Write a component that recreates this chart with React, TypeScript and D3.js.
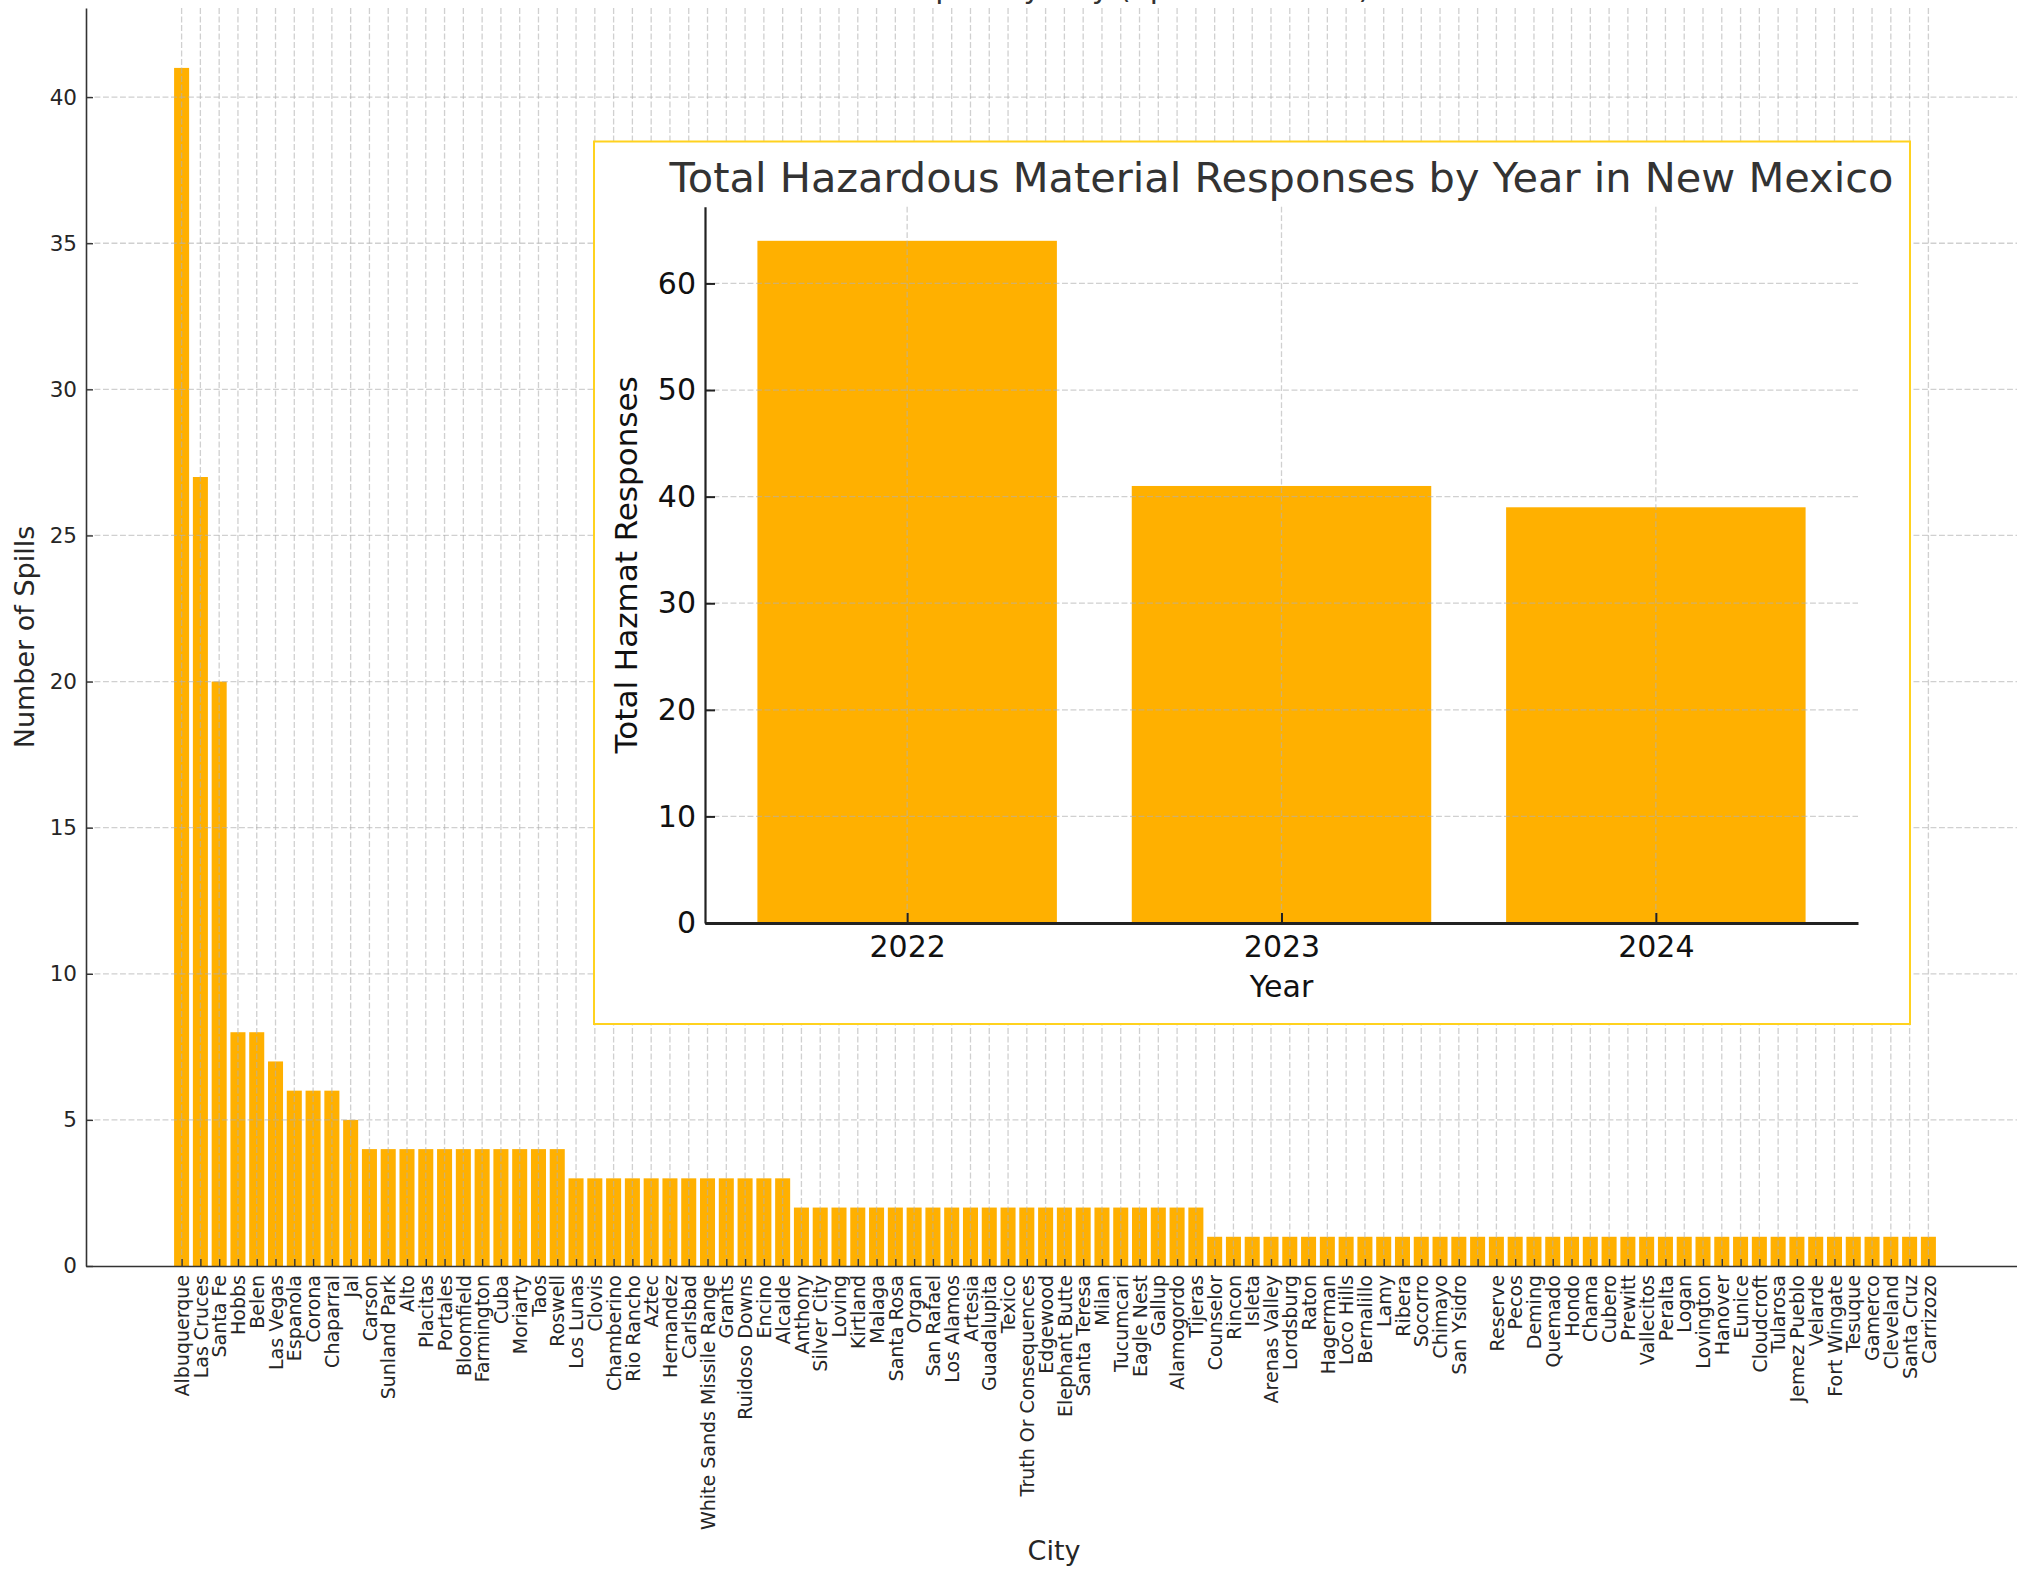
import React, { useEffect, useRef } from 'react';
import * as d3 from 'd3';

// Spills per city (main chart)
const cities = [
  'Albuquerque', 'Las Cruces', 'Santa Fe', 'Hobbs', 'Belen', 'Las Vegas', 'Espanola', 'Corona',
  'Chaparral', 'Jal', 'Carson', 'Sunland Park', 'Alto', 'Placitas', 'Portales', 'Bloomfield',
  'Farmington', 'Cuba', 'Moriarty', 'Taos', 'Roswell', 'Los Lunas', 'Clovis', 'Chamberino',
  'Rio Rancho', 'Aztec', 'Hernandez', 'Carlsbad', 'White Sands Missile Range', 'Grants',
  'Ruidoso Downs', 'Encino', 'Alcalde', 'Anthony', 'Silver City', 'Loving', 'Kirtland', 'Malaga',
  'Santa Rosa', 'Organ', 'San Rafael', 'Los Alamos', 'Artesia', 'Guadalupita', 'Texico',
  'Truth Or Consequences', 'Edgewood', 'Elephant Butte', 'Santa Teresa', 'Milan', 'Tucumcari',
  'Eagle Nest', 'Gallup', 'Alamogordo', 'Tijeras', 'Counselor', 'Rincon', 'Isleta', 'Arenas Valley',
  'Lordsburg', 'Raton', 'Hagerman', 'Loco Hills', 'Bernalillo', 'Lamy', 'Ribera', 'Socorro',
  'Chimayo', 'San Ysidro', '', 'Reserve', 'Pecos', 'Deming', 'Quemado', 'Hondo', 'Chama', 'Cubero',
  'Prewitt', 'Vallecitos', 'Peralta', 'Logan', 'Lovington', 'Hanover', 'Eunice', 'Cloudcroft',
  'Tularosa', 'Jemez Pueblo', 'Velarde', 'Fort Wingate', 'Tesuque', 'Gamerco', 'Cleveland',
  'Santa Cruz', 'Carrizozo',
];

const spills = [
  41, 27, 20, 8, 8, 7, 6, 6,
  6, 5, 4, 4, 4, 4, 4, 4,
  4, 4, 4, 4, 4, 3, 3, 3,
  3, 3, 3, 3, 3, 3,
  3, 3, 3, 2, 2, 2, 2, 2,
  2, 2, 2, 2, 2, 2, 2,
  2, 2, 2, 2, 2, 2,
  2, 2, 2, 2, 1, 1, 1, 1,
  1, 1, 1, 1, 1, 1, 1, 1,
  1, 1, 1, 1, 1, 1, 1, 1, 1, 1,
  1, 1, 1, 1, 1, 1, 1, 1,
  1, 1, 1, 1, 1, 1, 1,
  1, 1,
];

const spillTicks = [0, 5, 10, 15, 20, 25, 30, 35, 40];

// Inset: responses by year
const years = ['2022', '2023', '2024'];
const responses = [64, 41, 39];
const responseTicks = [0, 10, 20, 30, 40, 50, 60];

const W = 2017;
const H = 1577;
const BAR = '#FFB000';
const FONT = 'DejaVu Sans, Verdana, sans-serif';
const TXT = '#262626';

export default function App() {
  const svgRef = useRef<SVGSVGElement>(null);

  useEffect(() => {
    if (!svgRef.current) return;
    const svg = d3.select(svgRef.current);
    svg.selectAll('*').remove();

    // ---------- main chart ----------
    const n = cities.length;
    const pad = 0.05 * (n - 1 + 0.8);
    const x = d3.scaleLinear().domain([-0.4 - pad, n - 1 + 0.4 + pad]).range([86, 2024]);
    const y = d3.scaleLinear().domain([0, 41 * 1.05]).range([1266, 8]);

    svg.append('g')
      .selectAll('rect')
      .data(spills)
      .enter()
      .append('rect')
      .attr('x', (_, i) => x(i - 0.4))
      .attr('width', x(0.8) - x(0))
      .attr('y', d => y(d))
      .attr('height', d => y(0) - y(d))
      .attr('fill', BAR);

    // grid (sits over the bars, as in the source)
    const grid = svg.append('g')
      .attr('stroke', '#b0b0b0')
      .attr('stroke-opacity', 0.6)
      .attr('stroke-width', 1.3)
      .attr('stroke-dasharray', '5.9,2.6');
    grid.selectAll('.vg')
      .data(d3.range(n))
      .enter()
      .append('line')
      .attr('x1', i => x(i)).attr('x2', i => x(i))
      .attr('y1', y.range()[1]).attr('y2', y.range()[0]);
    grid.selectAll('.hg')
      .data(spillTicks.slice(1))
      .enter()
      .append('line')
      .attr('x1', x.range()[0]).attr('x2', x.range()[1])
      .attr('y1', d => y(d)).attr('y2', d => y(d));

    const xAxis = d3.axisBottom(x)
      .tickValues(d3.range(n))
      .tickFormat(i => cities[i as number])
      .tickSizeInner(-7)
      .tickSizeOuter(0);
    const gx = svg.append('g')
      .attr('transform', `translate(0,${y(0)})`)
      .call(xAxis);
    gx.attr('font-family', FONT).attr('font-size', 19);
    gx.select('.domain').attr('stroke', '#333').attr('stroke-width', 1.6);
    gx.selectAll('.tick line').attr('stroke', '#333').attr('stroke-width', 1.4);
    gx.selectAll('.tick text')
      .attr('fill', TXT)
      .attr('transform', 'rotate(-90)')
      .attr('x', -9)
      .attr('y', 0)
      .attr('dy', '0.35em')
      .attr('text-anchor', 'end');

    const yAxis = d3.axisLeft(y)
      .tickValues(spillTicks)
      .tickSizeInner(-7)
      .tickSizeOuter(0);
    const gy = svg.append('g')
      .attr('transform', `translate(${x.range()[0]},0)`)
      .call(yAxis);
    gy.attr('font-family', FONT).attr('font-size', 21.5);
    gy.select('.domain').attr('stroke', '#333').attr('stroke-width', 1.6);
    gy.selectAll('.tick line').attr('stroke', '#333').attr('stroke-width', 1.4);
    gy.selectAll('.tick text').attr('fill', TXT).attr('x', -9);

    svg.append('text')
      .attr('transform', `translate(34,${(y.range()[0] + y.range()[1]) / 2}) rotate(-90)`)
      .attr('text-anchor', 'middle')
      .attr('font-family', FONT)
      .attr('font-size', 27)
      .attr('fill', TXT)
      .text('Number of Spills');

    svg.append('text')
      .attr('x', 1054)
      .attr('y', 1560)
      .attr('text-anchor', 'middle')
      .attr('font-family', FONT)
      .attr('font-size', 27)
      .attr('fill', TXT)
      .text('City');

    // title, cut off by the top edge of the image
    svg.append('text')
      .attr('x', 622)
      .attr('y', -2)
      .attr('font-family', FONT)
      .attr('font-size', 30)
      .attr('fill', '#333')
      .text('Number of Hazmat Spills by City (up to Mid-2024)');

    // ---------- inset ----------
    svg.append('rect')
      .attr('x', 594)
      .attr('y', 141.5)
      .attr('width', 1316)
      .attr('height', 882.5)
      .attr('fill', '#fff')
      .attr('stroke', '#FFD21F')
      .attr('stroke-width', 2);

    const ix = d3.scaleLinear().domain([-0.54, 2.54]).range([705, 1858]);
    const iy = d3.scaleLinear().domain([0, 64 * 1.05]).range([923, 206.7]);

    svg.append('g')
      .selectAll('rect')
      .data(responses)
      .enter()
      .append('rect')
      .attr('x', (_, i) => ix(i - 0.4))
      .attr('width', ix(0.8) - ix(0))
      .attr('y', d => iy(d))
      .attr('height', d => iy(0) - iy(d))
      .attr('fill', BAR);

    const igrid = svg.append('g')
      .attr('stroke', '#b0b0b0')
      .attr('stroke-opacity', 0.6)
      .attr('stroke-width', 1.3)
      .attr('stroke-dasharray', '5.9,2.6');
    igrid.selectAll('.vg')
      .data(years)
      .enter()
      .append('line')
      .attr('x1', (_, i) => ix(i)).attr('x2', (_, i) => ix(i))
      .attr('y1', iy.range()[1]).attr('y2', iy.range()[0]);
    igrid.selectAll('.hg')
      .data(responseTicks.slice(1))
      .enter()
      .append('line')
      .attr('x1', ix.range()[0]).attr('x2', ix.range()[1])
      .attr('y1', d => iy(d)).attr('y2', d => iy(d));

    const ixAxis = d3.axisBottom(ix)
      .tickValues([0, 1, 2])
      .tickFormat(i => years[i as number])
      .tickSizeInner(-10)
      .tickSizeOuter(0);
    const gix = svg.append('g')
      .attr('transform', `translate(0,${iy(0)})`)
      .call(ixAxis);
    gix.attr('font-family', FONT).attr('font-size', 30);
    gix.select('.domain').attr('stroke', '#222').attr('stroke-width', 3);
    gix.selectAll('.tick line').attr('stroke', '#222').attr('stroke-width', 2);
    gix.selectAll('.tick text').attr('fill', '#111').attr('y', 34).attr('dy', 0);

    const iyAxis = d3.axisLeft(iy)
      .tickValues(responseTicks)
      .tickSizeInner(-10)
      .tickSizeOuter(0);
    const giy = svg.append('g')
      .attr('transform', `translate(${ix.range()[0]},0)`)
      .call(iyAxis);
    giy.attr('font-family', FONT).attr('font-size', 30);
    giy.select('.domain').attr('stroke', '#222').attr('stroke-width', 2.2);
    giy.selectAll('.tick line').attr('stroke', '#222').attr('stroke-width', 2);
    giy.selectAll('.tick text').attr('fill', '#111').attr('x', -9);

    svg.append('text')
      .attr('x', (ix.range()[0] + ix.range()[1]) / 2)
      .attr('y', 192)
      .attr('text-anchor', 'middle')
      .attr('font-family', FONT)
      .attr('font-size', 41.5)
      .attr('fill', '#333')
      .text('Total Hazardous Material Responses by Year in New Mexico');

    svg.append('text')
      .attr('x', (ix.range()[0] + ix.range()[1]) / 2)
      .attr('y', 997)
      .attr('text-anchor', 'middle')
      .attr('font-family', FONT)
      .attr('font-size', 30)
      .attr('fill', '#111')
      .text('Year');

    svg.append('text')
      .attr('transform', `translate(637,${(iy.range()[0] + iy.range()[1]) / 2}) rotate(-90)`)
      .attr('text-anchor', 'middle')
      .attr('font-family', FONT)
      .attr('font-size', 31)
      .attr('fill', '#111')
      .text('Total Hazmat Responses');
  }, []);

  return (
    <svg
      ref={svgRef}
      width={W}
      height={H}
      style={{ position: 'absolute', left: 0, top: 0, overflow: 'hidden', background: '#fff' }}
    />
  );
}
